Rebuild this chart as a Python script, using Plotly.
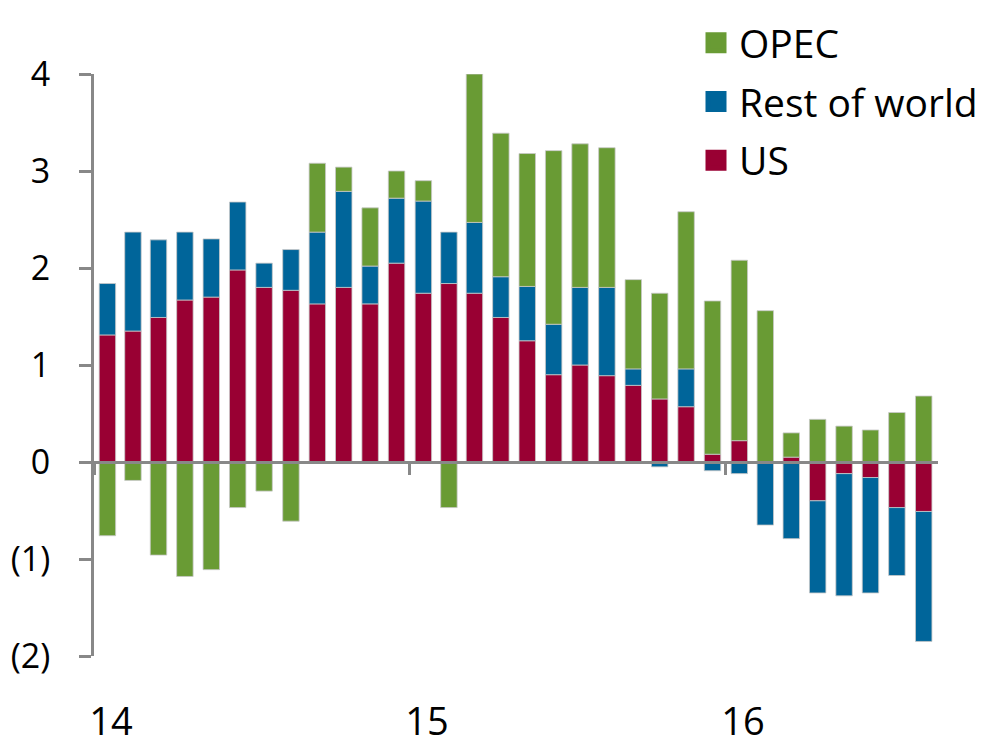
import pandas as pd
import plotly.graph_objects as go

months = pd.date_range("2014-01-01", periods=32, freq="MS").strftime("%Y-%m-%d").tolist()

us = [1.31, 1.35, 1.49, 1.67, 1.70, 1.98, 1.80, 1.77, 1.63, 1.80, 1.63, 2.05,
      1.74, 1.84, 1.74, 1.49, 1.25, 0.90, 1.00, 0.89, 0.79, 0.65, 0.57, 0.08,
      0.22, 0.00, 0.05, -0.40, -0.12, -0.16, -0.47, -0.51]
rest_of_world = [0.53, 1.02, 0.80, 0.70, 0.60, 0.70, 0.25, 0.42, 0.74, 0.99, 0.39, 0.67,
                 0.95, 0.53, 0.73, 0.42, 0.56, 0.52, 0.80, 0.91, 0.17, -0.05, 0.39, -0.09,
                 -0.12, -0.65, -0.79, -0.95, -1.26, -1.19, -0.70, -1.34]
opec = [-0.76, -0.19, -0.96, -1.18, -1.11, -0.47, -0.30, -0.61, 0.71, 0.25, 0.60, 0.28,
        0.21, -0.47, 1.53, 1.48, 1.37, 1.79, 1.48, 1.44, 0.92, 1.09, 1.62, 1.58,
        1.86, 1.56, 0.25, 0.44, 0.37, 0.33, 0.51, 0.68]

year_starts = ["2014-01-01", "2015-01-01", "2016-01-01"]
year_labels = ["14", "15", "16"]
y_ticks = [-2, -1, 0, 1, 2, 3, 4]
y_labels = ["(2)", "(1)", "0", "1", "2", "3", "4"]

series = [("US", us, "#990033"), ("Rest of world", rest_of_world, "#00659A"), ("OPEC", opec, "#699B34")]

GRAY = "#888888"
FONT = "Open Sans"
DAY_MS = 86400000

fig = go.Figure()
for name, vals, color in series:
    fig.add_trace(go.Bar(
        x=months, y=vals, name=name, showlegend=False,
        xperiod="M1", xperiodalignment="middle",
        width=19 * DAY_MS,
        marker=dict(color=color, line=dict(color="rgba(200,200,200,0.8)", width=1)),
        cliponaxis=False,
    ))

# legend proxies (top to bottom order); placed on the overlay axis so it is drawn
for name, vals, color in reversed(series):
    fig.add_trace(go.Scatter(
        x=[None], y=[None], mode="markers", name=name, xaxis="x2",
        legendgroup=name,
        marker=dict(symbol="square", size=16, color=color, line=dict(color=color, width=5)),
    ))

x_range = ["2014-01-01", "2016-09-02"]

fig.update_layout(
    width=1008, height=747,
    margin=dict(l=94, r=70, t=74, b=91, autoexpand=False),
    paper_bgcolor="white", plot_bgcolor="white",
    barmode="relative",
    font=dict(family=FONT, color="black"),
    showlegend=True,
    legend=dict(
        xref="container", yref="container",
        x=693 / 1008, y=1 - 11 / 747, xanchor="left", yanchor="top",
        font=dict(size=39, family=FONT, color="black"),
        bgcolor="rgba(0,0,0,0)", itemwidth=36, traceorder="grouped",
        tracegroupgap=5,
    ),
    xaxis=dict(
        type="date", range=x_range,
        tickvals=year_starts, ticktext=year_labels,
        ticks="", showline=False, showgrid=False, zeroline=False,
        tickfont=dict(size=38, family=FONT),
        ticklabelshift=17, ticklabelstandoff=40,
    ),
    xaxis2=dict(
        type="date", range=x_range, overlaying="x", matches="x",
        anchor="free", position=2 / 6,
        showline=True, linecolor=GRAY, linewidth=3,
        ticks="outside", ticklen=11, tickwidth=3, tickcolor=GRAY,
        tickvals=year_starts, showticklabels=False,
        showgrid=False, zeroline=False,
    ),
    yaxis=dict(
        range=[-2, 4], tickvals=y_ticks, ticktext=y_labels,
        showline=True, linecolor=GRAY, linewidth=3,
        ticks="outside", ticklen=12, tickwidth=3, tickcolor=GRAY,
        showgrid=False, zeroline=False,
        tickfont=dict(size=34, family=FONT),
        ticklabelstandoff=22,
    ),
)

fig.write_html("out.html", config={"displayModeBar": False},
               post_script="document.body.style.margin='0';")
